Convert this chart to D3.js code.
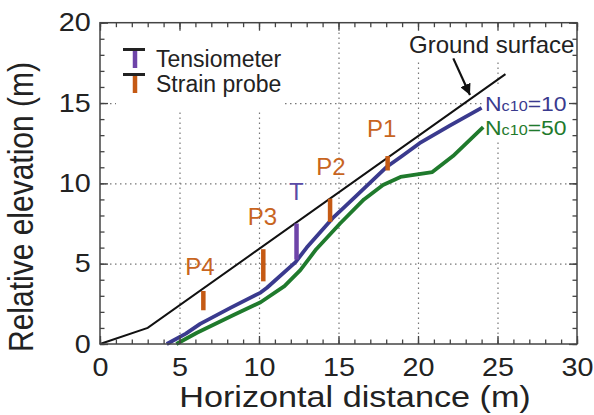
<!DOCTYPE html>
<html>
<head>
<meta charset="utf-8">
<script src="https://cdn.jsdelivr.net/npm/d3@7"></script>
<style>
  body { margin: 0; background: #fff; }
  svg { display: block; font-family: 'Liberation Sans', Arial, sans-serif; }
  .grid line { stroke: #777; stroke-width: 1.2; stroke-dasharray: 1.5,3.5; }
  .grid path { display: none; }
  .ticks path { display: none; }
  .ticks line { stroke: #444; stroke-width: 1.3; }
  .ticks text { font-size: 25px; fill: #222; }
</style>
</head>
<body>
<div id="chart"></div>
<script>
// axis ticks
const xTicks = [0, 5, 10, 15, 20, 25, 30];
const yTicks = [0, 5, 10, 15, 20];
const xGrid = [5, 10, 15, 20, 25];
const yGrid = [5, 10, 15];

// ground surface
const groundX = [0, 3, 25.5];
const groundY = [0, 1, 16.8];

// Nc10 = 10
const nc10X = [4.2, 5.4, 6.3, 8.2, 10.1, 10.5, 12.3, 13.0, 14.7, 16.1, 18.0, 19.0, 20.1, 22.0, 24.0];
const nc10Y = [0, 0.65, 1.25, 2.25, 3.2, 3.5, 5.1, 6.0, 7.9, 9.2, 11.0, 11.7, 12.5, 13.6, 14.7];

// Nc10 = 50
const nc50X = [4.8, 6.1, 8.4, 10.1, 11.6, 12.6, 13.6, 15.1, 16.6, 17.8, 18.9, 20.9, 22.2, 24.1];
const nc50Y = [0, 0.7, 1.8, 2.6, 3.6, 4.6, 5.9, 7.5, 9.0, 9.9, 10.4, 10.7, 11.7, 13.5];

// instruments: name, x, top, bottom, kind
const probeNames = ['P4', 'P3', 'T', 'P2', 'P1'];
const probeX = [6.5, 10.27, 12.36, 14.47, 18.09];
const probeTop = [3.3, 5.9, 7.5, 9.05, 11.7];
const probeBottom = [2.1, 3.9, 5.25, 7.6, 10.8];
const probeKind = ['strain', 'strain', 'tensio', 'strain', 'strain'];
const labelX = [6.29, 10.21, 12.35, 14.52, 17.71];
const labelY = [4.3, 7.4, 8.95, 10.5, 12.9];

const colors = {
  ground: '#111',
  nc10: '#3a3a8e',
  nc50: '#1f7a2c',
  strain: '#c55a14',
  tensio: '#6e44a8',
  strainText: '#c8651f',
  tensioText: '#5a4ba6'
};

const legendLabels = ['Tensiometer', 'Strain probe'];
const legendKinds = ['tensio', 'strain'];

const width = 594, height = 415;
const margin = { top: 22.7, right: 17, bottom: 71, left: 100 };
const w = width - margin.left - margin.right;
const h = height - margin.top - margin.bottom;

const svg = d3.select('#chart').append('svg')
  .attr('width', width)
  .attr('height', height);

const x = d3.scaleLinear().domain([0, 30]).range([margin.left, margin.left + w]);
const y = d3.scaleLinear().domain([0, 20]).range([margin.top + h, margin.top]);

// grid
svg.append('g')
  .attr('class', 'grid')
  .attr('transform', 'translate(0,' + (margin.top + h) + ')')
  .call(d3.axisBottom(x).tickValues(xGrid).tickSize(-h).tickFormat(''));
svg.append('g')
  .attr('class', 'grid')
  .attr('transform', 'translate(' + margin.left + ',0)')
  .call(d3.axisLeft(y).tickValues(yGrid).tickSize(-w).tickFormat(''));

// white boxes behind the legend and labels
const boxes = [
  [116, 32, 166, 78],
  [400, 27, 177, 33],
  [483, 84, 90, 58]
];
svg.selectAll('rect.box')
  .data(boxes)
  .enter()
  .append('rect')
  .attr('class', 'box')
  .attr('x', d => d[0]).attr('y', d => d[1])
  .attr('width', d => d[2]).attr('height', d => d[3])
  .attr('fill', '#fff');

const line = d3.line().x(d => x(d[0])).y(d => y(d[1]));

svg.append('path')
  .datum(groundX.map((v, i) => [v, groundY[i]]))
  .attr('d', line)
  .attr('fill', 'none')
  .attr('stroke', colors.ground)
  .attr('stroke-width', 2);

svg.append('path')
  .datum(nc50X.map((v, i) => [v, nc50Y[i]]))
  .attr('d', line)
  .attr('fill', 'none')
  .attr('stroke', colors.nc50)
  .attr('stroke-width', 3.8)
  .attr('stroke-linejoin', 'round');

svg.append('path')
  .datum(nc10X.map((v, i) => [v, nc10Y[i]]))
  .attr('d', line)
  .attr('fill', 'none')
  .attr('stroke', colors.nc10)
  .attr('stroke-width', 3.8)
  .attr('stroke-linejoin', 'round');

// instrument bars
svg.selectAll('line.probe')
  .data(probeNames)
  .enter()
  .append('line')
  .attr('class', 'probe')
  .attr('x1', (d, i) => x(probeX[i]))
  .attr('x2', (d, i) => x(probeX[i]))
  .attr('y1', (d, i) => y(probeTop[i]))
  .attr('y2', (d, i) => y(probeBottom[i]))
  .attr('stroke', (d, i) => colors[probeKind[i]])
  .attr('stroke-width', 4.5);

svg.selectAll('text.probe-label')
  .data(probeNames)
  .enter()
  .append('text')
  .attr('class', 'probe-label')
  .attr('x', (d, i) => x(labelX[i]))
  .attr('y', (d, i) => y(labelY[i]))
  .attr('text-anchor', 'middle')
  .attr('font-size', 24)
  .attr('fill', (d, i) => probeKind[i] === 'tensio' ? colors.tensioText : colors.strainText)
  .text(d => d);

// frame ticks (inward on all sides)
function ticks (axis, tr, vals, size) {
  return svg.append('g')
    .attr('class', 'ticks')
    .attr('transform', tr)
    .call(axis.tickValues(vals).tickSize(size).tickFormat(''));
}
const minorX = d3.range(0, 31);
const minorY = d3.range(0, 21);
ticks(d3.axisBottom(x), 'translate(0,' + (margin.top + h) + ')', minorX, -4.5);
ticks(d3.axisTop(x), 'translate(0,' + margin.top + ')', minorX, -4.5);
ticks(d3.axisLeft(y), 'translate(' + margin.left + ',0)', minorY, -4.5);
ticks(d3.axisRight(y), 'translate(' + (margin.left + w) + ',0)', minorY, -4.5);
ticks(d3.axisTop(x), 'translate(0,' + margin.top + ')', xTicks, -8);
ticks(d3.axisRight(y), 'translate(' + (margin.left + w) + ',0)', yTicks, -8);

const xAxis = svg.append('g')
  .attr('class', 'ticks')
  .attr('transform', 'translate(0,' + (margin.top + h) + ')')
  .call(d3.axisBottom(x).tickValues(xTicks).tickSize(-8).tickPadding(14));
xAxis.selectAll('text').attr('transform', 'scale(1.15,1)');

const yAxis = svg.append('g')
  .attr('class', 'ticks')
  .attr('transform', 'translate(' + margin.left + ',0)')
  .call(d3.axisLeft(y).tickValues(yTicks).tickSize(-8).tickPadding(8));
yAxis.selectAll('text').attr('transform', 'scale(1.15,1)');

svg.append('rect')
  .attr('x', margin.left).attr('y', margin.top)
  .attr('width', w).attr('height', h)
  .attr('fill', 'none')
  .attr('stroke', '#444')
  .attr('stroke-width', 1.5);

// axis titles
svg.append('text')
  .attr('transform', 'translate(355,406.7) scale(1.14,1)')
  .attr('text-anchor', 'middle')
  .attr('font-size', 30)
  .attr('fill', '#222')
  .text('Horizontal distance (m)');

svg.append('text')
  .attr('transform', 'translate(33,207) scale(1.14,1) rotate(-90)')
  .attr('text-anchor', 'middle')
  .attr('font-size', 30)
  .attr('fill', '#222')
  .text('Relative elevation (m)');

// legend
const legend = svg.selectAll('g.legend')
  .data(legendLabels)
  .enter()
  .append('g')
  .attr('class', 'legend')
  .attr('transform', (d, i) => 'translate(123,' + (49 + i * 25) + ')');
legend.append('line')
  .attr('x1', 12).attr('x2', 12).attr('y1', 0).attr('y2', 19)
  .attr('stroke', (d, i) => colors[legendKinds[i]])
  .attr('stroke-width', 4.5);
legend.append('line')
  .attr('x1', 0).attr('x2', 22).attr('y1', 0.5).attr('y2', 0.5)
  .attr('stroke', '#222')
  .attr('stroke-width', 3);
legend.append('text')
  .attr('x', 33).attr('y', 17.5)
  .attr('font-size', 23)
  .attr('fill', '#222')
  .text(d => d);

// ground surface label + arrow
svg.append('defs').append('marker')
  .attr('id', 'head')
  .attr('viewBox', '0 0 10 10')
  .attr('refX', 10).attr('refY', 5)
  .attr('markerWidth', 5).attr('markerHeight', 5)
  .attr('markerUnits', 'strokeWidth')
  .attr('orient', 'auto')
  .append('path')
  .attr('d', 'M0,0L10,5L0,10Z')
  .attr('fill', '#111');

const arrowFrom = [22.22, 17.78];
const arrowTo = [23.27, 15.5];
svg.append('line')
  .attr('x1', x(arrowFrom[0])).attr('y1', y(arrowFrom[1]))
  .attr('x2', x(arrowTo[0])).attr('y2', y(arrowTo[1]))
  .attr('stroke', '#111')
  .attr('stroke-width', 2.2)
  .attr('marker-end', 'url(#head)');

svg.append('text')
  .attr('x', 409).attr('y', 52.7)
  .attr('font-size', 24)
  .attr('fill', '#222')
  .text('Ground surface');

// Nc labels
const ncLabels = [['=10', 14.5, colors.nc10], ['=50', 13.0, colors.nc50]];
ncLabels.forEach(([v, yy, c]) => {
  const t = svg.append('text')
    .attr('transform', 'translate(' + x(24.21) + ',' + y(yy) + ') scale(1.12,1)')
    .attr('font-size', 20.5)
    .attr('fill', c);
  t.append('tspan').text('N');
  t.append('tspan').attr('font-size', 14.5).text('c10');
  t.append('tspan').text(v);
});
</script>
</body>
</html>
